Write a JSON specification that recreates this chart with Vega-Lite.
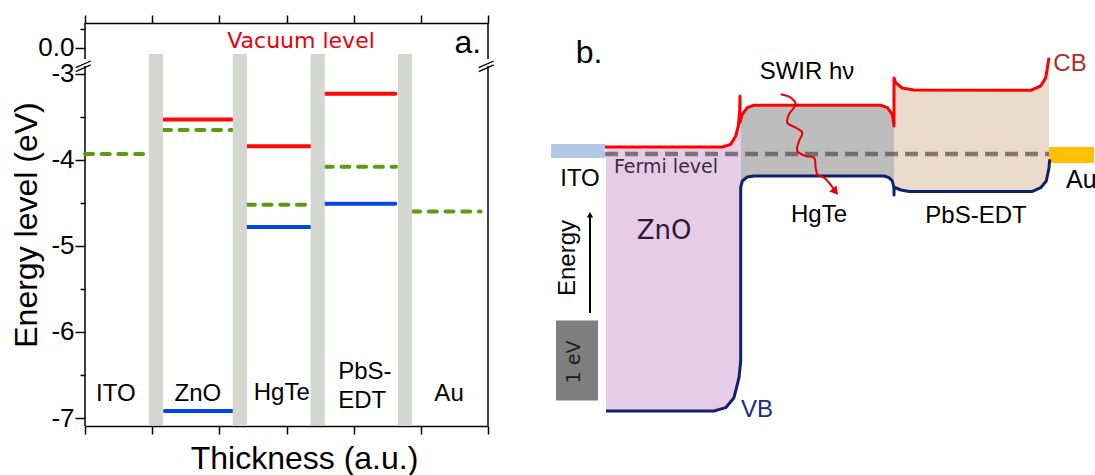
{
  "$schema": "https://vega.github.io/schema/vega-lite/v6.json",
  "background": "white",
  "padding": {"left": 10, "top": 14, "right": 0, "bottom": 0},
  "bounds": "flush",
  "spacing": 51,
  "config": {
    "view": {"stroke": null},
    "text": {"font": "Liberation Sans"},
    "axis": {"labelFont": "Liberation Sans", "titleFont": "Liberation Sans", "grid": false}
  },
  "resolve": {"scale": {"color": "independent", "strokeDash": "independent"}},
  "hconcat": [
    {
      "width": 403,
      "height": 403,
      "encoding": {
        "x": {"field": "x", "type": "quantitative", "scale": {"domain": [0, 6], "nice": false, "zero": false}, "axis": null},
        "y": {
          "field": "e", "type": "quantitative",
          "scale": {"domain": [-7.093, -2.849, -0.316, 0.658], "range": [403, 38, 37, 0], "nice": false, "zero": false},
          "axis": {
            "values": [-7, -6.5, -6, -5.5, -5, -4.5, -4, -3.5, -3, 0, 0.5],
            "labelExpr": "datum.value == 0 ? '0.0' : (datum.value % 1 == 0 ? '' + datum.value : '')",
            "tickSize": {"condition": {"test": "datum.value % 1 != 0", "value": 5}, "value": 10},
            "domain": false,
            "labelFontSize": 26,
            "labelColor": "#000",
            "labelPadding": 1,
            "labelOverlap": false,
            "labelBound": false,
            "tickColor": "#000",
            "tickWidth": 1.5,
            "title": "Energy level (eV)",
            "titleFontSize": 32,
            "titleFontWeight": "normal",
            "titleColor": "#000",
            "titlePadding": -6
          }
        }
      },
      "layer": [
        {
          "data": {"values": [
            {"x": 0, "e": 0.658, "e2": -0.29},
            {"x": 0, "e": -2.907, "e2": -7.093},
            {"x": 6, "e": 0.658, "e2": -0.29},
            {"x": 6, "e": -2.907, "e2": -7.093}
          ]},
          "mark": {"type": "rule", "color": "#000", "strokeWidth": 1.5},
          "encoding": {
            "x": {
              "field": "x", "type": "quantitative", "scale": {"domain": [0, 6], "nice": false, "zero": false},
              "axis": {
                "orient": "bottom", "values": [0, 1, 2, 3, 4, 5, 6], "labels": false,
                "tickSize": 8, "tickWidth": 1.5, "tickColor": "#000",
                "domainColor": "#000", "domainWidth": 1.5,
                "title": "Thickness (a.u.)", "titleFontSize": 32, "titleFontWeight": "normal",
                "titleColor": "#000", "titlePadding": 9, "titleX": 219
              }
            },
            "y2": {"field": "e2"}
          }
        },
        {
          "data": {"values": [
            {"x": -0.138, "x2": 0.085, "e": -2.927, "e2": -2.849},
            {"x": -0.138, "x2": 0.085, "e": -2.973, "e2": -2.895},
            {"x": 5.862, "x2": 6.085, "e": -2.927, "e2": -2.849},
            {"x": 5.862, "x2": 6.085, "e": -2.973, "e2": -2.895}
          ]},
          "mark": {"type": "rule", "color": "#000", "strokeWidth": 1.3},
          "encoding": {
            "x": {
              "field": "x", "type": "quantitative", "scale": {"domain": [0, 6], "nice": false, "zero": false},
              "axis": {
                "orient": "top", "values": [0, 1, 2, 3, 4, 5, 6], "labels": false,
                "tickSize": 8, "tickWidth": 1.5, "tickColor": "#000",
                "domainColor": "#000", "domainWidth": 1.5, "title": null
              }
            },
            "x2": {"field": "x2"},
            "y2": {"field": "e2"}
          }
        },
        {
          "data": {"values": [
            {"x": 0, "x2": 0.95, "e": -3.93, "kind": "fermi"},
            {"x": 1.16, "x2": 2.2, "e": -3.53, "kind": "cb"},
            {"x": 1.16, "x2": 2.2, "e": -3.65, "kind": "fermi"},
            {"x": 1.19, "x2": 2.2, "e": -6.92, "kind": "vb"},
            {"x": 2.41, "x2": 3.36, "e": -3.84, "kind": "cb"},
            {"x": 2.41, "x2": 3.36, "e": -4.52, "kind": "fermi"},
            {"x": 2.41, "x2": 3.36, "e": -4.78, "kind": "vb"},
            {"x": 3.57, "x2": 4.62, "e": -3.23, "kind": "cb"},
            {"x": 3.57, "x2": 4.63, "e": -4.08, "kind": "fermi"},
            {"x": 3.57, "x2": 4.62, "e": -4.51, "kind": "vb"},
            {"x": 4.87, "x2": 5.89, "e": -4.6, "kind": "fermi"}
          ]},
          "mark": {"type": "rule", "strokeWidth": 4, "strokeCap": "round"},
          "encoding": {
            "x2": {"field": "x2"},
            "color": {"field": "kind", "type": "nominal", "scale": {"domain": ["cb", "fermi", "vb"], "range": ["#ff0a0a", "#5b9b11", "#0048e6"]}, "legend": null},
            "strokeDash": {"field": "kind", "type": "nominal", "scale": {"domain": ["cb", "fermi", "vb"], "range": [[1, 0], [8, 8.7], [1, 0]]}, "legend": null}
          }
        },
        {
          "data": {"values": [
            {"x": 0.95, "x2": 1.16, "e": -7.08, "e2": -0.158},
            {"x": 2.2, "x2": 2.41, "e": -7.093, "e2": -0.158},
            {"x": 3.36, "x2": 3.57, "e": -7.08, "e2": -0.158},
            {"x": 4.66, "x2": 4.87, "e": -7.093, "e2": -0.158}
          ]},
          "mark": {"type": "rect", "color": "#d4d6d0"},
          "encoding": {"x2": {"field": "x2"}, "y2": {"field": "e2"}}
        },
        {
          "data": {"values": [
            {"x": 0.46, "e": -6.72, "t": "ITO"},
            {"x": 1.68, "e": -6.72, "t": "ZnO"},
            {"x": 2.93, "e": -6.71, "t": "HgTe"},
            {"x": 5.42, "e": -6.72, "t": "Au"}
          ]},
          "mark": {"type": "text", "fontSize": 24, "color": "#000", "align": "center", "baseline": "middle"},
          "encoding": {"text": {"field": "t"}}
        },
        {
          "data": {"values": [
            {"x": 3.77, "e": -6.465, "t": "PbS-"},
            {"x": 3.77, "e": -6.802, "t": "EDT"}
          ]},
          "mark": {"type": "text", "fontSize": 24, "color": "#000", "align": "left", "baseline": "middle"},
          "encoding": {"text": {"field": "t"}}
        },
        {
          "data": {"values": [{"x": 3.216, "e": 0.184, "t": "Vacuum level"}]},
          "mark": {"type": "text", "font": "DejaVu Sans", "fontSize": 22, "color": "#e8000b", "align": "center", "baseline": "middle"},
          "encoding": {"text": {"field": "t"}}
        },
        {
          "data": {"values": [{"x": 5.7, "e": 0.13, "t": "a."}]},
          "mark": {"type": "text", "fontSize": 32, "color": "#000", "align": "center", "baseline": "middle"},
          "encoding": {"text": {"field": "t"}}
        }
      ],
      "resolve": {"axis": {"x": "independent"}}
    },
    {
      "width": 555,
      "height": 403,
      "encoding": {
        "x": {"field": "u", "type": "quantitative", "scale": {"domain": [0, 111], "nice": false, "zero": false}, "axis": null},
        "y": {"field": "e", "type": "quantitative", "scale": {"domain": [-3.4, 1.6375], "nice": false, "zero": false}, "axis": null}
      },
      "resolve": {"scale": {"color": "independent"}},
      "layer": [
        {
          "data": {"values": [
            {"reg": "ZnO", "u": 13.4, "e": 0.0875, "e2": -3.2125},
            {"reg": "ZnO", "u": 35.0, "e": 0.0875, "e2": -3.2125},
            {"reg": "ZnO", "u": 36.6, "e": 0.0875, "e2": -3.194},
            {"reg": "ZnO", "u": 37.4, "e": 0.1, "e2": -3.169},
            {"reg": "ZnO", "u": 38.34, "e": 0.121, "e2": -3.1125},
            {"reg": "ZnO", "u": 39.0, "e": 0.175, "e2": -3.046},
            {"reg": "ZnO", "u": 39.34, "e": 0.225, "e2": -2.9875},
            {"reg": "ZnO", "u": 39.86, "e": 0.35, "e2": -2.875},
            {"reg": "ZnO", "u": 40.0, "e": 0.4125, "e2": -2.796},
            {"reg": "ZnO", "u": 40.14, "e": 0.5375, "e2": -2.6875},
            {"reg": "ZnO", "u": 40.34, "e": 0.5625, "e2": -2.5875},
            {"reg": "HgTe", "u": 40.34, "e": 0.391, "e2": -0.421},
            {"reg": "HgTe", "u": 40.66, "e": 0.496, "e2": -0.3375},
            {"reg": "HgTe", "u": 41.66, "e": 0.579, "e2": -0.2875},
            {"reg": "HgTe", "u": 43.0, "e": 0.609, "e2": -0.275},
            {"reg": "HgTe", "u": 68.34, "e": 0.609, "e2": -0.275},
            {"reg": "HgTe", "u": 69.0, "e": 0.596, "e2": -0.275},
            {"reg": "HgTe", "u": 69.66, "e": 0.579, "e2": -0.2875},
            {"reg": "HgTe", "u": 70.0, "e": 0.556, "e2": -0.296},
            {"reg": "HgTe", "u": 70.66, "e": 0.496, "e2": -0.3375},
            {"reg": "HgTe", "u": 71.0, "e": 0.35, "e2": -0.421},
            {"reg": "PbS", "u": 71.0, "e": 0.95, "e2": -0.4125},
            {"reg": "PbS", "u": 71.34, "e": 0.891, "e2": -0.419},
            {"reg": "PbS", "u": 72.34, "e": 0.831, "e2": -0.444},
            {"reg": "PbS", "u": 72.6, "e": 0.825, "e2": -0.45},
            {"reg": "PbS", "u": 74.0, "e": 0.805, "e2": -0.469},
            {"reg": "PbS", "u": 75.0, "e": 0.8, "e2": -0.469},
            {"reg": "PbS", "u": 98.34, "e": 0.796, "e2": -0.469},
            {"reg": "PbS", "u": 100.34, "e": 0.85, "e2": -0.421},
            {"reg": "PbS", "u": 101.34, "e": 0.954, "e2": -0.35},
            {"reg": "PbS", "u": 101.46, "e": 0.975, "e2": -0.3375},
            {"reg": "PbS", "u": 102.0, "e": 1.204, "e2": -0.171}
          ]},
          "mark": {"type": "area", "opacity": 1},
          "encoding": {
            "y2": {"field": "e2"},
            "color": {"field": "reg", "type": "nominal", "scale": {"domain": ["ZnO", "HgTe", "PbS"], "range": ["#e6cce6", "#bdbdbd", "#ecdacb"]}, "legend": null}
          }
        },
        {
          "data": {"values": [
            {"name": "ITO", "u": 2.4, "u2": 13.2, "e": 0.125, "e2": -0.05},
            {"name": "Au", "u": 102.0, "u2": 111.0, "e": 0.0875, "e2": -0.1125},
            {"name": "eV", "u": 3.4, "u2": 11.8, "e": -2.08, "e2": -3.08}
          ]},
          "mark": {"type": "rect"},
          "encoding": {
            "x2": {"field": "u2"},
            "y2": {"field": "e2"},
            "color": {"field": "name", "type": "nominal", "scale": {"domain": ["ITO", "Au", "eV"], "range": ["#b4c7e7", "#ffc000", "#7f7f7f"]}, "legend": null}
          }
        },
        {
          "data": {"values": [{"u": 13.2, "u2": 102.0, "e": 0}]},
          "mark": {"type": "rule", "color": "#4d4d4d", "opacity": 0.7, "strokeWidth": 4.5, "strokeDash": [13, 7]},
          "encoding": {"x2": {"field": "u2"}}
        },
        {
          "data": {"values": [
            {"band": "CB", "i": 1, "u": 13.2, "e": 0.0875},
            {"band": "CB", "i": 2, "u": 35.6, "e": 0.0875},
            {"band": "CB", "i": 3, "u": 36.66, "e": 0.0875},
            {"band": "CB", "i": 4, "u": 38.34, "e": 0.121},
            {"band": "CB", "i": 5, "u": 39.34, "e": 0.225},
            {"band": "CB", "i": 6, "u": 39.86, "e": 0.35},
            {"band": "CB", "i": 7, "u": 40.14, "e": 0.5375},
            {"band": "CB", "i": 8, "u": 40.2, "e": 0.725},
            {"band": "CB", "i": 9, "u": 40.2, "e": 0.391},
            {"band": "CB", "i": 10, "u": 40.66, "e": 0.496},
            {"band": "CB", "i": 11, "u": 41.66, "e": 0.579},
            {"band": "CB", "i": 12, "u": 43.0, "e": 0.609},
            {"band": "CB", "i": 13, "u": 68.34, "e": 0.609},
            {"band": "CB", "i": 14, "u": 69.66, "e": 0.579},
            {"band": "CB", "i": 15, "u": 70.66, "e": 0.496},
            {"band": "CB", "i": 16, "u": 71.0, "e": 0.35},
            {"band": "CB", "i": 17, "u": 71.0, "e": 0.95},
            {"band": "CB", "i": 18, "u": 71.34, "e": 0.891},
            {"band": "CB", "i": 19, "u": 72.6, "e": 0.825},
            {"band": "CB", "i": 20, "u": 75.0, "e": 0.8},
            {"band": "CB", "i": 21, "u": 98.34, "e": 0.796},
            {"band": "CB", "i": 22, "u": 100.34, "e": 0.85},
            {"band": "CB", "i": 23, "u": 101.34, "e": 0.954},
            {"band": "CB", "i": 24, "u": 102.0, "e": 1.204},
            {"band": "VB", "i": 1, "u": 13.4, "e": -3.2125},
            {"band": "VB", "i": 2, "u": 35.0, "e": -3.2125},
            {"band": "VB", "i": 3, "u": 37.34, "e": -3.171},
            {"band": "VB", "i": 4, "u": 39.0, "e": -3.046},
            {"band": "VB", "i": 5, "u": 40.0, "e": -2.796},
            {"band": "VB", "i": 6, "u": 40.34, "e": -2.5875},
            {"band": "VB", "i": 7, "u": 40.34, "e": -0.421},
            {"band": "VB", "i": 8, "u": 40.66, "e": -0.3375},
            {"band": "VB", "i": 9, "u": 41.66, "e": -0.2875},
            {"band": "VB", "i": 10, "u": 43.0, "e": -0.275},
            {"band": "VB", "i": 11, "u": 69.0, "e": -0.275},
            {"band": "VB", "i": 12, "u": 70.0, "e": -0.296},
            {"band": "VB", "i": 13, "u": 70.66, "e": -0.3375},
            {"band": "VB", "i": 14, "u": 71.0, "e": -0.421},
            {"band": "VB", "i": 15, "u": 71.0, "e": -0.5125},
            {"band": "VB", "i": 16, "u": 71.0, "e": -0.4125},
            {"band": "VB", "i": 17, "u": 71.4, "e": -0.425},
            {"band": "VB", "i": 18, "u": 72.4, "e": -0.45},
            {"band": "VB", "i": 19, "u": 74.0, "e": -0.469},
            {"band": "VB", "i": 20, "u": 98.6, "e": -0.469},
            {"band": "VB", "i": 21, "u": 100.34, "e": -0.421},
            {"band": "VB", "i": 22, "u": 101.46, "e": -0.3375},
            {"band": "VB", "i": 23, "u": 102.0, "e": -0.171},
            {"band": "VB", "i": 24, "u": 102.14, "e": -0.066}
          ]},
          "mark": {"type": "line", "strokeWidth": 3, "strokeJoin": "round"},
          "encoding": {
            "order": {"field": "i", "type": "quantitative"},
            "color": {"field": "band", "type": "nominal", "scale": {"domain": ["CB", "VB"], "range": ["#ff0000", "#0f2167"]}, "legend": null}
          }
        },
        {
          "data": {"values": [
            {"i": 1, "u": 48.34, "e": 0.746},
            {"i": 2, "u": 50.34, "e": 0.704},
            {"i": 3, "u": 51.34, "e": 0.621},
            {"i": 4, "u": 50.0, "e": 0.496},
            {"i": 5, "u": 49.66, "e": 0.391},
            {"i": 6, "u": 51.34, "e": 0.329},
            {"i": 7, "u": 52.66, "e": 0.266},
            {"i": 8, "u": 52.0, "e": 0.1625},
            {"i": 9, "u": 51.66, "e": 0.0375},
            {"i": 10, "u": 53.34, "e": -0.025},
            {"i": 11, "u": 55.0, "e": -0.046},
            {"i": 12, "u": 55.34, "e": -0.171},
            {"i": 13, "u": 55.66, "e": -0.254},
            {"i": 14, "u": 57.0, "e": -0.296},
            {"i": 15, "u": 58.0, "e": -0.359},
            {"i": 16, "u": 59.2, "e": -0.4625}
          ]},
          "mark": {"type": "line", "color": "#e60000", "strokeWidth": 2, "interpolate": "catmull-rom"},
          "encoding": {"order": {"field": "i", "type": "quantitative"}}
        },
        {
          "data": {"values": [{"u": 59.3, "e": -0.47}]},
          "mark": {"type": "point", "shape": "triangle-down", "filled": true, "color": "#e60000", "opacity": 1, "size": 90, "angle": -40}
        },
        {
          "data": {"values": [{"u": 10.2, "e": -1.9875, "i": 1}, {"u": 10.2, "e": -0.78, "i": 2}]},
          "mark": {"type": "line", "color": "#000", "strokeWidth": 2},
          "encoding": {"order": {"field": "i", "type": "quantitative"}}
        },
        {
          "data": {"values": [{"u": 10.2, "e": -0.76}]},
          "mark": {"type": "point", "shape": "triangle-up", "filled": true, "color": "#000", "opacity": 1, "size": 40}
        },
        {
          "data": {"values": [
            {"u": 8.2, "e": -0.3125, "t": "ITO"},
            {"u": 56.0, "e": -0.7625, "t": "HgTe"},
            {"u": 87.4, "e": -0.775, "t": "PbS-EDT"}
          ]},
          "mark": {"type": "text", "fontSize": 24, "color": "#000", "align": "center", "baseline": "middle"},
          "encoding": {"text": {"field": "t"}}
        },
        {
          "data": {"values": [{"u": 53.6, "e": 1.025, "t": "SWIR hν"}]},
          "mark": {"type": "text", "fontSize": 24, "color": "#000", "align": "center", "baseline": "middle"},
          "encoding": {"text": {"field": "t"}}
        },
        {
          "data": {"values": [{"u": 105.4, "e": -0.325, "t": "Au"}]},
          "mark": {"type": "text", "fontSize": 25, "color": "#000", "align": "left", "baseline": "middle"},
          "encoding": {"text": {"field": "t"}}
        },
        {
          "data": {"values": [{"u": 10.0, "e": 1.2625, "t": "b."}]},
          "mark": {"type": "text", "fontSize": 32, "color": "#000", "align": "center", "baseline": "middle"},
          "encoding": {"text": {"field": "t"}}
        },
        {
          "data": {"values": [
            {"u": 106.2, "e": 1.125, "t": "CB"},
            {"u": 43.6, "e": -3.2, "t": "VB"}
          ]},
          "mark": {"type": "text", "fontSize": 24, "align": "center", "baseline": "middle"},
          "encoding": {
            "text": {"field": "t"},
            "color": {"field": "t", "type": "nominal", "scale": {"domain": ["CB", "VB"], "range": ["#b22a2a", "#1c2a85"]}, "legend": null}
          }
        },
        {
          "data": {"values": [{"u": 25.4, "e": -0.1625, "t": "Fermi level"}]},
          "mark": {"type": "text", "font": "DejaVu Sans", "fontSize": 19, "color": "#3b2a40", "align": "center", "baseline": "middle"},
          "encoding": {"text": {"field": "t"}}
        },
        {
          "data": {"values": [{"u": 25.0, "e": -0.9625, "t": "ZnO"}]},
          "mark": {"type": "text", "font": "DejaVu Sans", "fontSize": 26, "color": "#2d1b30", "align": "center", "baseline": "middle"},
          "encoding": {"text": {"field": "t"}}
        },
        {
          "data": {"values": [{"u": 5.8, "e": -1.3, "t": "Energy"}]},
          "mark": {"type": "text", "fontSize": 24, "color": "#000", "align": "center", "baseline": "middle", "angle": 270},
          "encoding": {"text": {"field": "t"}}
        },
        {
          "data": {"values": [{"u": 7.0, "e": -2.6, "t": "1 eV"}]},
          "mark": {"type": "text", "font": "DejaVu Sans", "fontSize": 19, "color": "#1a1a1a", "align": "center", "baseline": "middle", "angle": 270},
          "encoding": {"text": {"field": "t"}}
        }
      ]
    }
  ]
}
